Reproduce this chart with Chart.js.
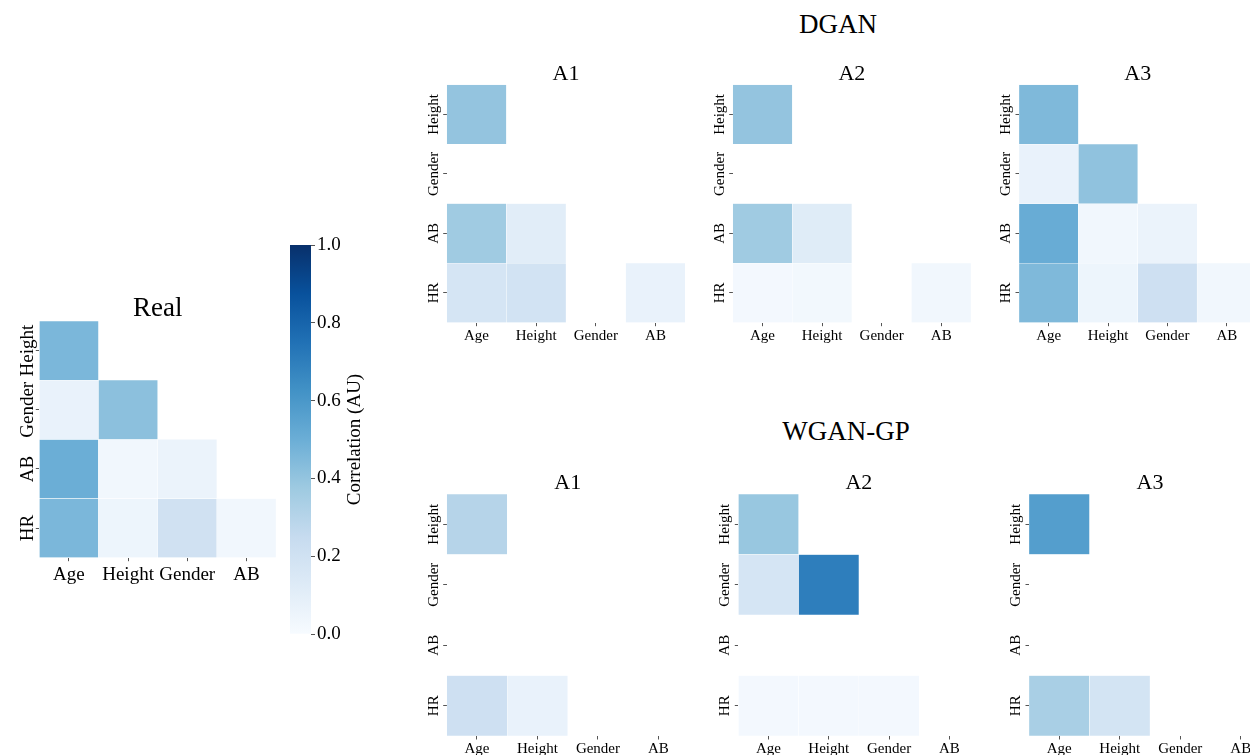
<!DOCTYPE html>
<html>
<head>
<meta charset="utf-8">
<script src="https://cdn.jsdelivr.net/npm/chart.js@4.4.1/dist/chart.umd.min.js"></script>
<style>
  html, body { margin: 0; padding: 0; background: #fff; }
  body { width: 1250px; height: 755px; overflow: hidden; position: relative;
         font-family: "Liberation Serif", "Times New Roman", serif; }
  canvas { position: absolute; }
  .suptitle { position: absolute; width: 400px; text-align: center; font-size: 27px;
              line-height: 27px; color: #000; white-space: nowrap; }
</style>
</head>
<body>
<div class="suptitle" style="left:638px; top:10.7px;">DGAN</div>
<div class="suptitle" style="left:646px; top:418px;">WGAN-GP</div>

<canvas id="real"   width="290" height="330" style="left:0px;   top:270px;"></canvas>
<canvas id="cbar"   width="110" height="430" style="left:280px; top:225px;"></canvas>
<canvas id="dganA1" width="300" height="320" style="left:400px; top:40px;"></canvas>
<canvas id="dganA2" width="300" height="320" style="left:690px; top:40px;"></canvas>
<canvas id="dganA3" width="300" height="320" style="left:975px; top:40px;"></canvas>
<canvas id="wganA1" width="300" height="330" style="left:400px; top:450px;"></canvas>
<canvas id="wganA2" width="310" height="330" style="left:690px; top:450px;"></canvas>
<canvas id="wganA3" width="310" height="330" style="left:980px; top:450px;"></canvas>

<script>
// Lower-triangle correlation matrices; rows = rowLabels, columns = colLabels.
// null marks a masked cell (upper triangle or undefined correlation).
const rowLabels = ['Height', 'Gender', 'AB', 'HR'];
const colLabels = ['Age', 'Height', 'Gender', 'AB'];

const realCorr = [
  [0.46, null, null, null],
  [0.07, 0.42, null, null],
  [0.50, 0.03, 0.06, null],
  [0.46, 0.05, 0.20, 0.03]
];
const dganA1 = [
  [0.40, null, null, null],
  [null, null, null, null],
  [0.37, 0.11, null, null],
  [0.17, 0.19, null, 0.07]
];
const dganA2 = [
  [0.40, null, null, null],
  [null, null, null, null],
  [0.37, 0.12, null, null],
  [0.02, 0.025, null, 0.03]
];
const dganA3 = [
  [0.45, null, null, null],
  [0.07, 0.41, null, null],
  [0.51, 0.03, 0.06, null],
  [0.45, 0.05, 0.21, 0.03]
];
const wganA1 = [
  [0.30, null, null, null],
  [null, null, null, null],
  [null, null, null, null],
  [0.21, 0.07, null, null]
];
const wganA2 = [
  [0.39, null, null, null],
  [0.17, 0.70, null, null],
  [null, null, null, null],
  [0.02, 0.02, 0.02, null]
];
const wganA3 = [
  [0.57, null, null, null],
  [null, null, null, null],
  [null, null, null, null],
  [0.34, 0.18, null, null]
];

const colorbarRange = [0, 1];
const colorbarTicks = [0.0, 0.2, 0.4, 0.6, 0.8, 1.0];

// Sequential "Blues" colour map
const BLUES = [
  [0.000, [247, 251, 255]],
  [0.125, [222, 235, 247]],
  [0.250, [198, 219, 239]],
  [0.375, [158, 202, 225]],
  [0.500, [107, 174, 214]],
  [0.625, [ 66, 146, 198]],
  [0.750, [ 33, 113, 181]],
  [0.875, [  8,  81, 156]],
  [1.000, [  8,  48, 107]]
];
function blues(v) {
  v = Math.max(0, Math.min(1, v));
  for (let k = 1; k < BLUES.length; k++) {
    const [v1, c1] = BLUES[k];
    const [v0, c0] = BLUES[k - 1];
    if (v <= v1) {
      const f = (v - v0) / (v1 - v0);
      const c = c0.map((a, i) => Math.round(a + (c1[i] - a) * f));
      return `rgb(${c[0]},${c[1]},${c[2]})`;
    }
  }
  const c = BLUES[BLUES.length - 1][1];
  return `rgb(${c[0]},${c[1]},${c[2]})`;
}

const SERIF = '"Liberation Serif", "Times New Roman", serif';

// Vertical row labels placed at the y-scale tick positions, reading upward
const rowLabelPlugin = {
  id: 'rowLabels',
  afterDraw(chart, args, opts) {
    if (!opts || !opts.labels) return;
    const ys = chart.scales.y;
    const ctx = chart.ctx;
    ctx.save();
    ctx.fillStyle = '#000';
    ctx.font = `${opts.size}px ${SERIF}`;
    ctx.textAlign = 'center';
    ctx.textBaseline = 'alphabetic';
    opts.labels.forEach((lab, i) => {
      const y = ys.getPixelForValue(i);
      ctx.save();
      ctx.translate(chart.chartArea.left - opts.gap, y);
      ctx.rotate(-Math.PI / 2);
      ctx.fillText(lab, 0, 0);
      ctx.restore();
    });
    ctx.restore();
  }
};

// Colour bar caption, reading upward to the right of the tick labels
const cbarLabelPlugin = {
  id: 'cbarLabel',
  afterDraw(chart, args, opts) {
    if (!opts || !opts.text) return;
    const ctx = chart.ctx;
    const a = chart.chartArea;
    ctx.save();
    ctx.fillStyle = '#000';
    ctx.font = `${opts.size}px ${SERIF}`;
    ctx.textAlign = 'center';
    ctx.textBaseline = 'alphabetic';
    ctx.translate(opts.x, (a.top + a.bottom) / 2);
    ctx.rotate(-Math.PI / 2);
    ctx.fillText(opts.text, 0, 0);
    ctx.restore();
  }
};

Chart.register(rowLabelPlugin, cbarLabelPlugin);

function makeHeatmap(id, title, matrix, g) {
  const canvas = document.getElementById(id);
  const W = canvas.width, H = canvas.height;
  const lh = 0.8 * g.titleSize;
  const padBottom = 4 - 0.09 * g.titleSize;
  const padTop = g.top - lh - padBottom;

  const datasets = rowLabels.map((row, i) => ({
    label: row,
    data: colLabels.map((c, j) => matrix[i][j] == null ? null : [i - 0.5, i + 0.5]),
    backgroundColor: colLabels.map((c, j) => matrix[i][j] == null ? 'rgba(0,0,0,0)' : blues(matrix[i][j])),
    borderColor: 'rgba(255,255,255,0.75)',
    borderWidth: 0.5,
    borderSkipped: false,
    barPercentage: 1,
    categoryPercentage: 1,
    grouped: false
  }));

  const tickGrid = {
    display: true, offset: false, drawOnChartArea: false, drawTicks: true,
    tickLength: 3.5, tickColor: '#555', tickWidth: 1
  };

  return new Chart(canvas, {
    type: 'bar',
    data: { labels: colLabels, datasets },
    options: {
      responsive: false, animation: false, devicePixelRatio: 1,
      layout: { padding: { left: 0, top: 0, right: W - g.right, bottom: 0 } },
      plugins: {
        legend: { display: false },
        tooltip: { enabled: false },
        title: {
          display: true, text: title, fullSize: false, color: '#000',
          font: { family: SERIF, size: g.titleSize, weight: 'normal', lineHeight: 0.8 },
          padding: { top: padTop, bottom: padBottom }
        },
        rowLabels: { labels: rowLabels, size: g.tickSize, gap: g.labelGap }
      },
      scales: {
        x: {
          type: 'category', offset: true,
          grid: tickGrid, border: { display: false },
          ticks: { color: '#000', font: { family: SERIF, size: g.tickSize, lineHeight: 1 },
                   padding: g.tickPad, maxRotation: 0, minRotation: 0, autoSkip: false },
          afterFit: s => { s.height = H - g.bottom; }
        },
        y: {
          type: 'linear', min: -0.5, max: 3.5, reverse: true,
          afterBuildTicks: s => { s.ticks = rowLabels.map((r, i) => ({ value: i })); },
          grid: tickGrid, border: { display: false },
          ticks: { display: false },
          afterFit: s => { s.width = g.left; }
        }
      }
    }
  });
}

const big = { tickSize: 19, titleSize: 27, labelGap: 6, tickPad: 4 };
const small = { tickSize: 15, titleSize: 22, labelGap: 9, tickPad: 2.5 };

makeHeatmap('real', 'Real', realCorr, Object.assign({ left: 39.3, top: 51, right: 276, bottom: 287.7 }, big));
makeHeatmap('dganA1', 'A1', dganA1, Object.assign({ left: 46.7, top: 44.7, right: 285.3, bottom: 282.7 }, small));
makeHeatmap('dganA2', 'A2', dganA2, Object.assign({ left: 42.7, top: 44.7, right: 281, bottom: 282.7 }, small));
makeHeatmap('dganA3', 'A3', dganA3, Object.assign({ left: 44, top: 44.7, right: 281.5, bottom: 282.7 }, small));
makeHeatmap('wganA1', 'A1', wganA1, Object.assign({ left: 46.7, top: 44, right: 288.7, bottom: 286 }, small));
makeHeatmap('wganA2', 'A2', wganA2, Object.assign({ left: 48.3, top: 44, right: 289.5, bottom: 286 }, small));
makeHeatmap('wganA3', 'A3', wganA3, Object.assign({ left: 49, top: 44, right: 291, bottom: 286 }, small));

// Colour bar: one floating bar spanning the value range, filled with the colour map
(function () {
  const canvas = document.getElementById('cbar');
  new Chart(canvas, {
    type: 'bar',
    data: {
      labels: ['Correlation (AU)'],
      datasets: [{
        data: [colorbarRange],
        backgroundColor: (ctx) => {
          const chart = ctx.chart;
          if (!chart.chartArea) return null;
          const y = chart.scales.y;
          const grad = chart.ctx.createLinearGradient(
            0, y.getPixelForValue(colorbarRange[0]), 0, y.getPixelForValue(colorbarRange[1]));
          BLUES.forEach(([v, c]) => grad.addColorStop(v, `rgb(${c[0]},${c[1]},${c[2]})`));
          return grad;
        },
        borderWidth: 0,
        barPercentage: 1,
        categoryPercentage: 1
      }]
    },
    options: {
      responsive: false, animation: false, devicePixelRatio: 1,
      layout: { padding: { left: 10, top: 20, right: 0, bottom: 21 } },
      plugins: {
        legend: { display: false },
        tooltip: { enabled: false },
        cbarLabel: { text: 'Correlation (AU)', size: 19, x: 80 }
      },
      scales: {
        x: { display: false, offset: true },
        y: {
          position: 'right', min: colorbarRange[0], max: colorbarRange[1],
          afterBuildTicks: s => { s.ticks = colorbarTicks.map(v => ({ value: v })); },
          grid: { display: true, drawOnChartArea: false, drawTicks: true, tickLength: 4,
                  tickColor: '#555', tickWidth: 1 },
          border: { display: false },
          ticks: { color: '#000', padding: 2, font: { family: SERIF, size: 19 },
                   callback: v => Number(v).toFixed(1) },
          afterFit: s => { s.width = 79; }
        }
      }
    }
  });
})();
</script>
</body>
</html>
